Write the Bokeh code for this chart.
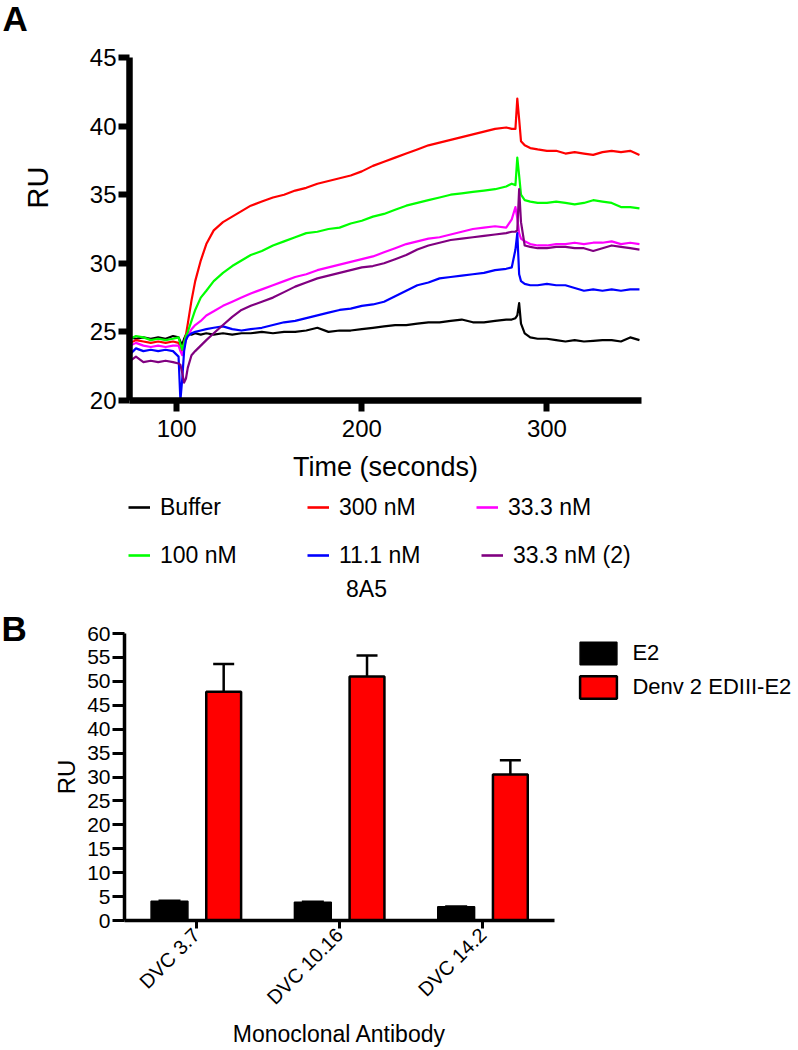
import numpy as np
from bokeh.plotting import figure
from bokeh.models import (ColumnDataSource, Legend, LegendItem, Label, FixedTicker,
                          Range1d, FactorRange, Whisker, TeeHead)
from bokeh.transform import dodge
from bokeh.layouts import column, row
from bokeh.embed import file_html
from bokeh.resources import INLINE

FONT = "Liberation Sans"

# ---------------- Panel A data (sensorgram, RU vs time) ----------------
time_s = [75, 78, 82, 86, 90, 94, 98, 101, 102, 103, 104, 105, 106, 108, 110, 113, 116, 120,
          125, 130, 135, 140, 146, 152, 158, 164, 170, 176, 182, 188, 194, 200, 206, 212, 218,
          224, 230, 236, 242, 248, 254, 260, 266, 272, 278, 281, 283, 284, 285, 286, 288, 291,
          295, 300, 305, 310, 315, 320, 325, 330, 335, 340, 345, 350]

buffer_ru = [24.6, 24.5, 24.6, 24.5, 24.6, 24.5, 24.7, 24.6, 24.3, 24.1, 24.5, 24.8, 24.9,
             24.8, 24.9, 24.8, 24.9, 24.8, 24.9, 24.8, 24.9, 24.9, 25.0, 24.9, 25.0, 25.0,
             25.1, 25.3, 25.0, 25.1, 25.1, 25.2, 25.3, 25.4, 25.5, 25.5, 25.6, 25.7, 25.7,
             25.8, 25.9, 25.7, 25.7, 25.8, 25.9, 25.9, 26.0, 26.2, 27.1, 25.6, 24.9, 24.6,
             24.5, 24.5, 24.4, 24.3, 24.4, 24.3, 24.35, 24.4, 24.4, 24.3, 24.6, 24.4]

nm300_ru = [24.2, 24.4, 24.3, 24.2, 24.3, 24.2, 24.3, 24.2, 23.8, 23.6, 24.2, 24.8, 25.6,
            27.3, 28.7, 30.2, 31.4, 32.4, 33.0, 33.4, 33.8, 34.2, 34.5, 34.8, 35.0, 35.3,
            35.5, 35.8, 36.0, 36.2, 36.4, 36.7, 37.1, 37.4, 37.7, 38.0, 38.3, 38.6, 38.8,
            39.0, 39.2, 39.4, 39.6, 39.8, 39.9, 39.8, 39.8, 42.0, 40.5, 38.9, 38.6, 38.4,
            38.3, 38.2, 38.2, 38.0, 38.1, 38.0, 37.9, 38.1, 38.2, 38.1, 38.2, 37.9]

nm33_ru = [24.0, 24.2, 24.0, 23.9, 24.0, 23.9, 24.0, 24.0, 23.6, 23.3, 23.9, 24.4, 24.7,
           25.2, 25.5, 25.8, 26.2, 26.5, 26.9, 27.2, 27.5, 27.8, 28.1, 28.4, 28.7, 29.0,
           29.2, 29.5, 29.7, 29.9, 30.1, 30.3, 30.5, 30.8, 31.1, 31.4, 31.6, 31.8, 31.9,
           32.1, 32.3, 32.5, 32.6, 32.7, 32.6, 33.2, 34.1, 33.3, 32.2, 31.8, 31.6, 31.4,
           31.3, 31.3, 31.4, 31.4, 31.5, 31.4, 31.5, 31.5, 31.6, 31.4, 31.5, 31.4]

nm100_ru = [24.5, 24.7, 24.6, 24.4, 24.5, 24.4, 24.5, 24.6, 24.1, 23.7, 24.2, 24.7, 25.0,
            25.8, 26.6, 27.5, 28.0, 28.7, 29.3, 29.8, 30.2, 30.6, 30.9, 31.3, 31.6, 31.9,
            32.2, 32.3, 32.5, 32.6, 32.9, 33.1, 33.4, 33.6, 33.9, 34.2, 34.4, 34.6, 34.8,
            35.0, 35.1, 35.2, 35.3, 35.4, 35.6, 35.8, 35.7, 37.7, 36.4, 35.0, 34.6, 34.5,
            34.4, 34.4, 34.5, 34.4, 34.3, 34.4, 34.6, 34.5, 34.4, 34.1, 34.1, 34.0]

nm11_ru = [23.4, 23.8, 23.6, 23.7, 23.6, 23.7, 23.6, 23.2, 20.0, 21.6, 23.6, 24.4, 24.7,
           24.9, 25.0, 25.1, 25.2, 25.3, 25.4, 25.2, 25.1, 25.2, 25.3, 25.5, 25.7, 25.8,
           26.0, 26.2, 26.4, 26.6, 26.7, 26.9, 27.0, 27.2, 27.6, 28.0, 28.4, 28.6, 28.9,
           29.0, 29.1, 29.2, 29.3, 29.5, 29.6, 29.7, 31.0, 32.2, 29.2, 28.7, 28.5, 28.4,
           28.4, 28.5, 28.4, 28.4, 28.2, 28.0, 28.1, 28.0, 28.1, 28.0, 28.1, 28.1]

nm33b_ru = [22.9, 23.2, 22.8, 22.9, 22.8, 22.9, 22.8, 22.7, 22.6, 22.0, 21.3, 21.6, 22.4,
            23.3, 23.6, 24.0, 24.4, 24.9, 25.5, 26.1, 26.6, 26.9, 27.2, 27.5, 27.9, 28.3,
            28.6, 28.9, 29.1, 29.3, 29.5, 29.7, 29.8, 30.0, 30.3, 30.6, 31.0, 31.3, 31.5,
            31.7, 31.8, 31.9, 32.0, 32.1, 32.2, 32.3, 32.3, 32.4, 35.4, 33.0, 31.3, 31.2,
            31.1, 31.1, 31.2, 31.2, 31.1, 31.1, 30.9, 31.1, 31.3, 31.2, 31.1, 31.0]

series_labels = ["Buffer", "300 nM", "33.3 nM", "100 nM", "11.1 nM", "33.3 nM (2)"]
series_colors = ["#000000", "#FF0000", "#FF00FF", "#00FF00", "#0000FF", "#800080"]
series_values = [buffer_ru, nm300_ru, nm33_ru, nm100_ru, nm11_ru, nm33b_ru]

x_ticks_a = [100, 200, 300]
y_ticks_a = [20, 25, 30, 35, 40, 45]

# ---------------- Panel B data (bar chart) ----------------
antibodies = ["DVC 3.7", "DVC 10.16", "DVC 14.2"]
bar_series = ["E2", "Denv 2 EDIII-E2"]
e2_ru = [4.0, 3.8, 2.9]
e2_err = [0.2, 0.15, 0.1]
edIII_ru = [47.8, 51.0, 30.5]
edIII_err = [5.8, 4.4, 3.0]
y_ticks_b = [0, 5, 10, 15, 20, 25, 30, 35, 40, 45, 50, 55, 60]

NO_DATA = [np.nan]  # legend-only renderers draw nothing in their plot


def style_axis(ax, line_w, tick_w, tick_out, font_px, standoff):
    ax.axis_line_width = line_w
    ax.axis_line_color = "black"
    ax.major_tick_line_width = tick_w
    ax.major_tick_line_color = "black"
    ax.major_tick_out = tick_out
    ax.major_tick_in = 0
    ax.minor_tick_line_color = None
    ax.major_label_text_font = FONT
    ax.major_label_text_font_size = f"{font_px}px"
    ax.major_label_text_color = "black"
    ax.major_label_standoff = standoff
    ax.axis_label_text_font = FONT
    ax.axis_label_text_font_style = "normal"
    ax.axis_label_text_color = "black"


def strip(w, h):
    s = figure(width=w, height=h, x_range=Range1d(0, w), y_range=Range1d(0, h),
               x_axis_type=None, y_axis_type=None, output_backend="svg",
               toolbar_location=None, min_border_left=0, min_border_right=0,
               min_border_top=0, min_border_bottom=0)
    s.outline_line_color = None
    s.grid.visible = False
    return s


def txt(fig, x, y, text, size, bold=False, angle=0.0, align="left"):
    fig.add_layout(Label(x=x, y=y, text=text, angle=angle, text_align=align,
                         text_baseline="middle", text_font=FONT, text_font_size=size,
                         text_font_style="bold" if bold else "normal", text_color="black"))


def style_legend(lg, gw, gh, lh, standoff, font_px):
    lg.border_line_color = None
    lg.background_fill_alpha = 0
    lg.padding = 0
    lg.margin = 0
    lg.spacing = 0
    lg.glyph_width = gw
    lg.glyph_height = gh
    lg.label_height = lh
    lg.label_standoff = standoff
    lg.label_text_font = FONT
    lg.label_text_font_size = f"{font_px}px"
    lg.label_text_color = "black"


# ================= Figure A (page y 0..492) =================
H1 = 492
stripA = strip(60, H1)
txt(stripA, 2, H1 - 17.5, "A", "35px", bold=True)
txt(stripA, 37.5, H1 - 187, "RU", "29px", angle=np.pi / 2, align="center")

p1 = figure(width=738, height=H1, x_range=Range1d(74.5, 351.1), y_range=Range1d(20, 45),
            output_backend="svg", toolbar_location=None,
            min_border_left=69, min_border_right=157, min_border_top=57, min_border_bottom=92)
p1.outline_line_color = None
p1.grid.visible = False

for lab, col, ys in zip(series_labels, series_colors, series_values):
    p1.line(time_s, ys, line_color=col, line_width=2.2, line_join="round")

style_axis(p1.xaxis[0], 6.5, 6, 11, 24, 8)
style_axis(p1.yaxis[0], 6.5, 6, 11, 24, 2)
p1.xaxis[0].ticker = FixedTicker(ticks=x_ticks_a)
p1.yaxis[0].ticker = FixedTicker(ticks=y_ticks_a)
p1.xaxis[0].axis_label = "Time (seconds)"
p1.xaxis[0].axis_label_text_font_size = "27px"
p1.xaxis[0].axis_label_standoff = 12

# ================= Legend strip for A (page y 492..604) =================
HL = 112
BASE = H1 + HL
p_leg = strip(798, HL)
leg_pos = [(128, 507), (307, 507), (476, 507), (128, 555), (307, 555), (481, 555)]
for lab, col, (gx, cy) in zip(series_labels, series_colors, leg_pos):
    r = p_leg.line(NO_DATA, NO_DATA, line_color=col, line_width=2.6)
    lg = Legend(items=[LegendItem(label=lab, renderers=[r])],
                location=(gx, BASE - (cy + 14)), orientation="vertical")
    style_legend(lg, 22, 28, 28, 10, 23)
    p_leg.add_layout(lg)
txt(p_leg, 366, BASE - 588, "8A5", "23px", align="center")

# ================= Figure B (page y 604..1050) =================
H2 = 1050 - BASE
stripB = strip(50, H2)
txt(stripB, 1, 1050 - 628, "B", "35px", bold=True)

p2 = figure(width=510, height=H2, x_range=FactorRange(*antibodies), y_range=Range1d(0, 60),
            output_backend="svg", toolbar_location=None,
            min_border_left=72, min_border_right=6, min_border_top=633 - BASE,
            min_border_bottom=130)
p2.outline_line_color = None
p2.grid.visible = False

src = ColumnDataSource(dict(
    cat=antibodies,
    e2=e2_ru,
    e2_top=[v + e for v, e in zip(e2_ru, e2_err)],
    ed=edIII_ru,
    ed_top=[v + e for v, e in zip(edIII_ru, edIII_err)],
))

p2.vbar(x=dodge("cat", -0.186, range=p2.x_range), top="e2", width=0.257, source=src,
        fill_color="black", line_color="black", line_width=1.5)
p2.vbar(x=dodge("cat", 0.192, range=p2.x_range), top="ed", width=0.243, source=src,
        fill_color="#FF0000", line_color="black", line_width=2.5)

p2.add_layout(Whisker(source=src, base=dodge("cat", -0.186, range=p2.x_range),
                      lower="e2", upper="e2_top", line_width=2, line_color="black",
                      upper_head=TeeHead(size=22, line_width=2, line_color="black"),
                      lower_head=None))
p2.add_layout(Whisker(source=src, base=dodge("cat", 0.192, range=p2.x_range),
                      lower="ed", upper="ed_top", line_width=2.5, line_color="black",
                      upper_head=TeeHead(size=21, line_width=2.5, line_color="black"),
                      lower_head=None))

style_axis(p2.xaxis[0], 3.5, 3, 8, 20, 3)
style_axis(p2.yaxis[0], 3.5, 3, 12, 21, 2)
p2.yaxis[0].ticker = FixedTicker(ticks=y_ticks_b)
p2.xaxis[0].major_label_orientation = np.pi / 4
p2.xaxis[0].axis_label = "Monoclonal Antibody"
p2.xaxis[0].axis_label_text_font_size = "23px"
p2.xaxis[0].axis_label_standoff = 2
p2.yaxis[0].axis_label = "RU"
p2.yaxis[0].axis_label_text_font_size = "24px"
p2.yaxis[0].axis_label_standoff = 4

stripR = strip(238, H2)
rb1 = stripR.vbar(x=NO_DATA, top=NO_DATA, width=1, fill_color="black", line_color="black",
                  line_width=1.5)
rb2 = stripR.vbar(x=NO_DATA, top=NO_DATA, width=1, fill_color="#FF0000", line_color="black",
                  line_width=2.5)
lg2 = Legend(items=[LegendItem(label=bar_series[0], renderers=[rb1]),
                    LegendItem(label=bar_series[1], renderers=[rb2])],
             location=(575.4 - 560, 1050 - 700.5), orientation="vertical")
style_legend(lg2, 46, 28, 28, 11, 22)
lg2.spacing = 6
stripR.add_layout(lg2)

layout = column(row(column(stripA), p1),
                p_leg,
                row(column(stripB), p2, column(stripR)))
open("out.html", "w").write(file_html(layout, INLINE))
